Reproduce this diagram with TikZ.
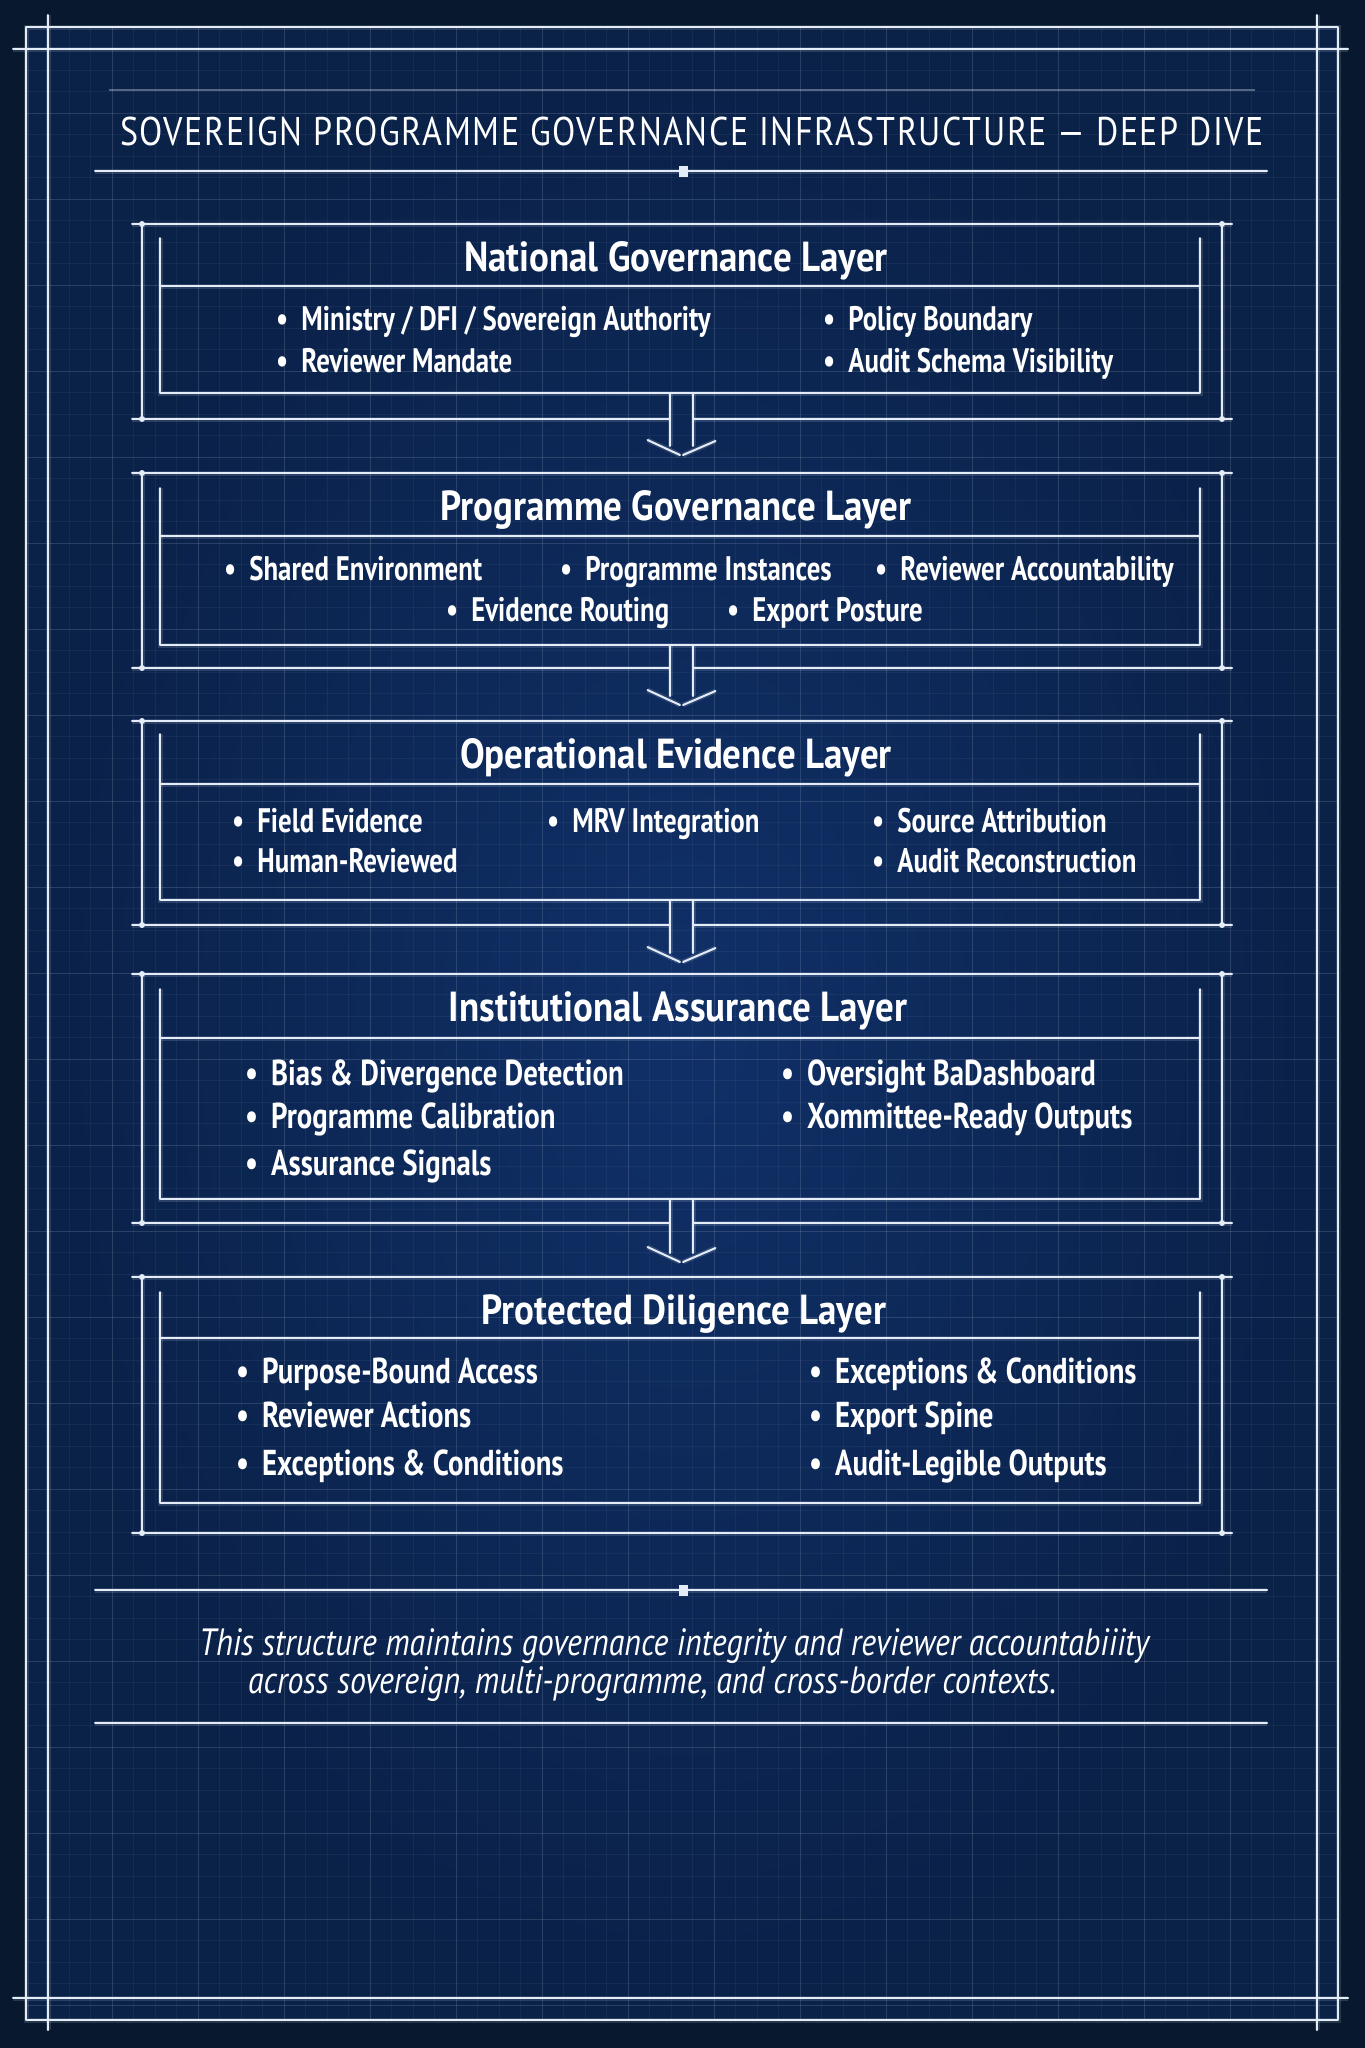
\documentclass[tikz,border=0pt]{standalone}
\usepackage{fontspec}
\setmainfont{PT Sans}[FakeStretch=0.79]
\newfontfamily\itmfontb{PT Sans}[FakeStretch=0.80]
\newfontfamily\hdfont{PT Sans}[FakeStretch=0.88]
\newfontfamily\ttlfont{PT Sans}[FakeStretch=0.85,LetterSpace=4]
\newfontfamily\ftfont{PT Sans}[FakeStretch=0.84]
\usetikzlibrary{calc}
\definecolor{bgout}{HTML}{07182F}
\definecolor{bgin}{HTML}{103068}
\definecolor{bgedge}{HTML}{0A2148}
\definecolor{ink}{HTML}{E4ECF7}
\newcommand{\bul}{•\hspace{13pt}}
\tikzset{
  ln/.style={draw=ink, line width=2pt, line cap=round, line join=round,
    preaction={draw=ink, line width=5pt, draw opacity=0.15}},
  thinln/.style={draw=ink, line width=1.2pt, draw opacity=0.35},
  gridminor/.style={draw=ink, line width=0.6pt, draw opacity=0.05},
  gridmajor/.style={draw=ink, line width=0.8pt, draw opacity=0.10},
  itemtxt/.style={anchor=west, inner sep=0pt, text=white, text height=0.7em, text depth=0pt,
    font=\fontsize{34}{38}\selectfont\bfseries},
  itemtxtb/.style={anchor=west, inner sep=0pt, text=white, text height=0.7em, text depth=0pt,
    font=\itmfontb\fontsize{36}{40}\selectfont\bfseries},
  hdtxt/.style={inner sep=0pt, text=white, text height=0.7em, text depth=0pt,
    font=\hdfont\fontsize{42}{46}\selectfont\bfseries},
  ttltxt/.style={inner sep=0pt, text=white, text height=0.7em, text depth=0pt,
    font=\ttlfont\fontsize{40}{44}\selectfont},
  foottxt/.style={anchor=west, inner sep=0pt, text=white, text height=0.7em, text depth=0pt,
    font=\ftfont\fontsize{38}{42}\selectfont\itshape},
  sqmark/.style={rectangle, fill=ink, minimum width=9pt, minimum height=11pt, inner sep=0pt},
}
% #1 name, #2 outer top, #3 inner top, #4 header line, #5 inner bottom, #6 outer bottom, #7 arrow below (1/0)
\newcommand{\layerframe}[7]{%
  \draw[ln] (132,#2) -- (1232,#2);
  \ifnum#7=1
    \draw[ln] (132,#6) -- (670,#6);
    \draw[ln] (693,#6) -- (1232,#6);
  \else
    \draw[ln] (132,#6) -- (1232,#6);
  \fi
  \draw[ln] (142,#2) -- (142,#6);
  \draw[ln] (1222,#2) -- (1222,#6);
  \fill[ink] (142,#2) circle (3) (1222,#2) circle (3) (142,#6) circle (3) (1222,#6) circle (3);
  \draw[ln] (160,#3) -- (160,#5) -- (1200,#5) -- (1200,#3);
  \draw[ln] (160,#4) -- (1200,#4);
  \coordinate (#1bot) at (681.5,#5);
}
\newcommand{\flowarrow}[2]{%
  \draw[ln] ($(#1bot)+(-11.5,0)$) -- ($(#2)+(-11.5,-9)$);
  \draw[ln] ($(#1bot)+(11.5,0)$) -- ($(#2)+(11.5,-9)$);
  \draw[ln] ($(#2)+(-34,-15)$) -- ($(#2)+(-1.5,0)$);
  \draw[ln] ($(#2)+(1.5,0)$) -- ($(#2)+(34,-14)$);
}
\begin{document}
\begin{tikzpicture}[x=1pt,y=-1pt]
\useasboundingbox (0,0) rectangle (1365,2048);
\fill[bgout] (0,0) rectangle (1365,2048);
\shade[inner color=bgin, outer color=bgedge] (26,27) rectangle (1338,2020);
\begin{scope}
  \clip (26,27) rectangle (1338,2020);
  \foreach \i in {0,...,62} \draw[gridminor] ({26+\i*21.5},27) -- ({26+\i*21.5},2020);
  \foreach \j in {0,...,93} \draw[gridminor] (26,{27+\j*21.5}) -- (1338,{27+\j*21.5});
  \foreach \i in {0,...,15} \draw[gridmajor] ({26+\i*86},27) -- ({26+\i*86},2020);
  \foreach \j in {0,...,23} \draw[gridmajor] (26,{27+\j*86}) -- (1338,{27+\j*86});
\end{scope}
% outer frame
\draw[ln] (26,27) rectangle (1338,2020);
\draw[ln] (48,15) -- (48,2030);
\draw[ln] (1317,15) -- (1317,2030);
\draw[ln] (13,49) -- (1348,49);
\draw[ln] (13,1998) -- (1348,1998);
\draw[thinln] (109,90) -- (1255,90);
% title
\node[ttltxt] (title) at (692,142) {SOVEREIGN PROGRAMME GOVERNANCE INFRASTRUCTURE — DEEP DIVE};
\draw[ln] (95,171) -- (1267,171);
\node[sqmark] (tsq) at (683,171) {};
% layers
\layerframe{La}{224}{238}{286}{393}{419}{1}
\node[hdtxt] (ha) at (676,268) {National Governance Layer};
\node[itemtxt] (a1) at (276,327) {\bul Ministry / DFI / Sovereign Authority};
\node[itemtxt] (a2) at (276,369) {\bul Reviewer Mandate};
\node[itemtxt] (a3) at (823,327) {\bul Policy Boundary};
\node[itemtxt] (a4) at (823,369) {\bul Audit Schema Visibility};

\layerframe{Lb}{473}{488}{536}{645}{668}{1}
\node[hdtxt] (hb) at (676,517) {Programme Governance Layer};
\node[itemtxt] (b1) at (224,577) {\bul Shared Environment};
\node[itemtxt] (b2) at (560,577) {\bul Programme Instances};
\node[itemtxt] (b3) at (875,577) {\bul Reviewer Accountability};
\node[itemtxt] (b4) at (446,618) {\bul Evidence Routing};
\node[itemtxt] (b5) at (727,618) {\bul Export Posture};

\layerframe{Lc}{721}{734}{784}{900}{925}{1}
\node[hdtxt] (hc) at (676,765) {Operational Evidence Layer};
\node[itemtxt] (c1) at (232,829) {\bul Field Evidence};
\node[itemtxt] (c2) at (232,869) {\bul Human-Reviewed};
\node[itemtxt] (c3) at (547,829) {\bul MRV Integration};
\node[itemtxt] (c4) at (872,829) {\bul Source Attribution};
\node[itemtxt] (c5) at (872,869) {\bul Audit Reconstruction};

\layerframe{Ld}{974}{989}{1038}{1199}{1223}{1}
\node[hdtxt] (hd) at (678,1018) {Institutional Assurance Layer};
\node[itemtxtb] (d1) at (245,1082) {\bul Bias \& Divergence Detection};
\node[itemtxtb] (d2) at (245,1125) {\bul Programme Calibration};
\node[itemtxtb] (d3) at (245,1172) {\bul Assurance Signals};
\node[itemtxtb] (d4) at (781,1082) {\bul Oversight BaDashboard};
\node[itemtxtb] (d5) at (781,1125) {\bul Xommittee-Ready Outputs};

\layerframe{Le}{1277}{1292}{1338}{1503}{1533}{0}
\node[hdtxt] (he) at (684,1321) {Protected Diligence Layer};
\node[itemtxtb] (e1) at (236,1380) {\bul Purpose-Bound Access};
\node[itemtxtb] (e2) at (236,1424) {\bul Reviewer Actions};
\node[itemtxtb] (e3) at (236,1472) {\bul Exceptions \& Conditions};
\node[itemtxtb] (e4) at (809,1380) {\bul Exceptions \& Conditions};
\node[itemtxtb] (e5) at (809,1424) {\bul Export Spine};
\node[itemtxtb] (e6) at (809,1472) {\bul Audit-Legible Outputs};

% arrows
\coordinate (tipa) at (681.5,455);
\coordinate (tipb) at (681.5,705);
\coordinate (tipc) at (681.5,962);
\coordinate (tipd) at (681.5,1262);
\flowarrow{La}{tipa}
\flowarrow{Lb}{tipb}
\flowarrow{Lc}{tipc}
\flowarrow{Ld}{tipd}

% footer
\draw[ln] (95,1590) -- (1267,1590);
\node[sqmark] (fsq) at (683,1590) {};
\node[foottxt] (f1) at (199,1652) {This structure maintains governance integrity and reviewer accountabiiity};
\node[foottxt] (f2) at (248,1690) {across sovereign, multi-programme, and cross-border contexts.};
\draw[ln] (95,1723) -- (1267,1723);
\end{tikzpicture}
\end{document}
